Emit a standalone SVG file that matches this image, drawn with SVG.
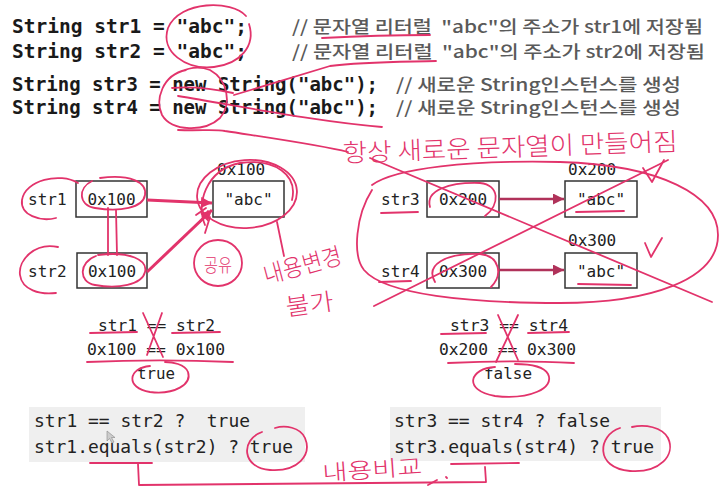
<svg xmlns="http://www.w3.org/2000/svg" width="722" height="502" viewBox="0 0 722 502">
<defs>
<marker id="ah" viewBox="0 0 10 10" refX="10" refY="5" markerWidth="13" markerHeight="11" markerUnits="userSpaceOnUse" orient="auto"><path d="M0,0 L10,5 L0,10 z" fill="#b0325a"/></marker>
<marker id="ahp" viewBox="0 0 10 10" refX="10" refY="5" markerWidth="13" markerHeight="11" markerUnits="userSpaceOnUse" orient="auto"><path d="M0,0 L10,5 L0,10 z" fill="#e2336b"/></marker>
</defs>
<style>
text{white-space:pre}
.code{font-family:"DejaVu Sans Mono","Liberation Mono",monospace;font-weight:bold;font-size:19px;fill:#1a1a1a}
.cmt{font-family:"Noto Sans CJK KR","Noto Sans",sans-serif;font-size:17px;fill:#5a5a5a;font-weight:500}
.mono{font-family:"DejaVu Sans Mono","Liberation Mono",monospace;font-size:16px;fill:#222}
.mono18{font-family:"DejaVu Sans Mono","Liberation Mono",monospace;font-size:18px;fill:#222}
.box{fill:#fff;stroke:#333;stroke-width:1.5}
.pen{fill:none;stroke:#e2336b;stroke-width:1.8;stroke-linecap:round;stroke-linejoin:round}
.hand{font-family:"Noto Sans CJK KR",sans-serif;fill:#e2336b;font-weight:300}
.conn{stroke:#b0325a;stroke-width:2.5;fill:none}
.connp{stroke:#e2336b;stroke-width:3;fill:none}
.gray{fill:#efefef}
</style>

<g id="code">
<text class="code" x="12" y="33" textLength="235" lengthAdjust="spacingAndGlyphs">String str1 = "abc";</text>
<text class="code" x="12" y="58" textLength="235" lengthAdjust="spacingAndGlyphs">String str2 = "abc";</text>
<text class="code" x="12" y="91" textLength="366" lengthAdjust="spacingAndGlyphs">String str3 = new String("abc");</text>
<text class="code" x="12" y="114" textLength="366" lengthAdjust="spacingAndGlyphs">String str4 = new String("abc");</text>
<text class="cmt" x="292" y="33" textLength="411" lengthAdjust="spacingAndGlyphs">// 문자열 리터럴  "abc"의 주소가 str1에 저장됨</text>
<text class="cmt" x="292" y="58" textLength="413" lengthAdjust="spacingAndGlyphs">// 문자열 리터럴  "abc"의 주소가 str2에 저장됨</text>
<text class="cmt" x="396" y="91" textLength="285" lengthAdjust="spacingAndGlyphs">// 새로운 String인스턴스를 생성</text>
<text class="cmt" x="396" y="114" textLength="285" lengthAdjust="spacingAndGlyphs">// 새로운 String인스턴스를 생성</text>
</g>

<g id="left-diagram">
<g id="str1"><text class="mono" x="28" y="205">str1</text><rect class="box" x="76" y="181" width="71" height="36"/><text class="mono" x="111.5" y="205" text-anchor="middle">0x100</text></g>
<g id="str2"><text class="mono" x="28" y="277">str2</text><rect class="box" x="77" y="253" width="70" height="35"/><text class="mono" x="112" y="277" text-anchor="middle">0x100</text></g>
<g id="abc1"><text class="mono" x="217" y="175">0x100</text><rect class="box" x="213" y="181" width="71" height="36"/><text class="mono" x="248.5" y="205" text-anchor="middle">"abc"</text></g>
</g>

<g id="right-diagram">
<g id="str3"><text class="mono" x="381" y="205">str3</text><rect class="box" x="427" y="181" width="72" height="36"/><text class="mono" x="463" y="205" text-anchor="middle">0x200</text></g>
<g id="str4"><text class="mono" x="381" y="277">str4</text><rect class="box" x="427" y="253" width="72" height="35"/><text class="mono" x="463" y="277" text-anchor="middle">0x300</text></g>
<g id="abc2"><text class="mono" x="568" y="175">0x200</text><rect class="box" x="565" y="181" width="72" height="36"/><text class="mono" x="601" y="205" text-anchor="middle">"abc"</text></g>
<g id="abc3"><text class="mono" x="568" y="246">0x300</text><rect class="box" x="565" y="253" width="72" height="35"/><text class="mono" x="601" y="277" text-anchor="middle">"abc"</text></g>
</g>

<g id="connectors">
<path class="connp" d="M147 200 L212 203" marker-end="url(#ahp)"/>
<path class="connp" d="M147 272 L212 210" marker-end="url(#ahp)"/>
<path class="conn" d="M499 199 L564 199" marker-end="url(#ah)"/>
<path class="conn" d="M499 270 L564 270" marker-end="url(#ah)"/>
</g>

<g id="compare-left">
<text class="mono" x="98" y="331" textLength="117" lengthAdjust="spacingAndGlyphs">str1 == str2</text>
<text class="mono" x="87" y="355" textLength="138" lengthAdjust="spacingAndGlyphs">0x100 == 0x100</text>
<text class="mono" x="137" y="379" textLength="38" lengthAdjust="spacingAndGlyphs">true</text>
</g>
<g id="compare-right">
<text class="mono" x="450" y="331" textLength="118" lengthAdjust="spacingAndGlyphs">str3 == str4</text>
<text class="mono" x="439" y="355" textLength="137" lengthAdjust="spacingAndGlyphs">0x200 == 0x300</text>
<text class="mono" x="484" y="379" textLength="48" lengthAdjust="spacingAndGlyphs">false</text>
</g>

<g id="result-left">
<rect class="gray" x="29" y="407" width="276" height="55"/>
<text class="mono18" x="34" y="427" textLength="216" lengthAdjust="spacingAndGlyphs">str1 == str2 ?  true</text>
<text class="mono18" x="34" y="453" textLength="259" lengthAdjust="spacingAndGlyphs">str1.equals(str2) ? true</text>
<path d="M107 431 L107 441 L109.5 438.5 L112 443 L114 442 L111.5 437.5 L115 437.5 z" fill="#ccc" stroke="#888" stroke-width="0.6"/>
</g>
<g id="result-right">
<rect class="gray" x="390" y="407" width="271" height="54"/>
<text class="mono18" x="394" y="427" textLength="216" lengthAdjust="spacingAndGlyphs">str3 == str4 ? false</text>
<text class="mono18" x="394" y="453" textLength="260" lengthAdjust="spacingAndGlyphs">str3.equals(str4) ? true</text>
</g>

<g id="annotations">
<path class="pen" d="M246 16 C232 0, 180 0, 168 28 C160 52, 186 70, 214 67 C240 64, 256 46, 249 24"/>
<path class="pen" d="M322 38 C360 36, 400 35, 430 35"/>
<path class="pen" d="M436 61 C400 62, 362 62, 330 66 L234 95"/>
<path class="pen" d="M186 70 C162 75, 155 100, 162 115 C172 132, 205 132, 220 118 C232 104, 228 80, 210 70 C200 66, 190 67, 180 72"/>
<path class="pen" d="M172 88 C195 86, 215 89, 233 93"/>
<path class="pen" d="M178 96 C250 108, 320 122, 382 127"/>
<path class="pen" d="M178 130 C200 131, 215 129, 225 131 C270 138, 320 145, 348 152"/>
<text class="hand" x="343" y="162" font-size="25" textLength="335" lengthAdjust="spacingAndGlyphs" transform="rotate(-2 343 162)">항상 새로운 문자열이 만들어짐</text>
<path class="pen" d="M78 183 C60 172, 25 180, 22 200 C20 215, 40 222, 56 218"/>
<path class="pen" d="M58 247 C35 242, 18 260, 20 275 C22 290, 40 295, 56 293"/>
<path class="pen" d="M100 178 C130 174, 147 182, 145 195 C143 208, 120 212, 95 208 C78 205, 78 188, 92 181"/>
<path class="pen" d="M98 255 C130 251, 148 260, 145 272 C142 285, 118 289, 95 285 C78 282, 79 262, 96 256"/>
<path class="pen" d="M108 208 L108 255 M116 210 L117 255"/>
<ellipse class="pen" cx="247" cy="194" rx="50" ry="34" transform="rotate(-4 247 194)"/>
<path class="pen" d="M205 225 C196 205, 205 170, 240 163 C275 158, 298 175, 292 200"/>
<path class="pen" d="M277 222 L284 256"/>
<path class="pen" d="M210 217 L205 233"/>
<path class="pen" d="M196 215 L206 208 M200 222 L208 211"/>
<ellipse class="pen" cx="218" cy="263" rx="24" ry="23"/>
<text class="hand" x="204" y="272" font-size="18" textLength="28" lengthAdjust="spacingAndGlyphs">공유</text>
<text class="hand" x="266" y="284" font-size="24" textLength="80" lengthAdjust="spacingAndGlyphs" transform="rotate(-15 266 284)">내용변경</text>
<text class="hand" x="287" y="316" font-size="24" textLength="48" lengthAdjust="spacingAndGlyphs" transform="rotate(-8 287 316)">불가</text>
<path class="pen" d="M372 185 C395 168, 470 160, 560 162 C660 165, 718 195, 718 235 C718 280, 650 303, 560 303 C470 303, 385 295, 364 270 C352 255, 356 215, 372 190"/>
<path class="pen" d="M370 158 L712 302"/>
<path class="pen" d="M374 306 L668 160"/>
<path class="pen" d="M643 168 L652 182 L664 160"/>
<path class="pen" d="M645 243 L651 257 L662 238"/>
<path class="pen" d="M430 207 C425 190, 450 182, 480 183 C500 185, 500 205, 485 216"/>
<path class="pen" d="M435 282 C425 265, 445 253, 480 254 C500 256, 503 275, 491 287"/>
<path class="pen" d="M381 213 L418 212 M379 282 L411 281 M576 212 L624 211 M578 284 L631 285"/>
<path class="pen" d="M90 333 L137 332 M172 333 L220 332"/>
<path class="pen" d="M143 313 L163 357 M162 313 L147 355"/>
<path class="pen" d="M87 362 C130 360, 190 360, 233 362"/>
<path class="pen" d="M150 366 C128 368, 125 388, 150 392 C175 395, 192 384, 188 372 C185 364, 172 362, 165 362"/>
<path class="pen" d="M90 463 L152 463"/>
<path class="pen" d="M138 464 L139 485 L486 482 L485 467"/>
<path class="pen" d="M262 432 C240 440, 242 468, 270 470 C298 472, 312 455, 305 438 C300 427, 285 425, 275 428"/>
<text class="hand" x="323" y="481" font-size="22" textLength="100" lengthAdjust="spacingAndGlyphs" transform="rotate(-4 323 481)">내용비교</text>
<path class="pen" d="M428 485 L437 480 M446 477 L447 478"/>
<path class="pen" d="M441 334 L486 333 M528 333 L569 332"/>
<path class="pen" d="M498 315 L518 360 M518 315 L496 362"/>
<path class="pen" d="M448 363 C490 361, 540 361, 574 363"/>
<path class="pen" d="M495 367 C470 368, 462 390, 495 396 C530 400, 555 388, 548 374 C543 365, 525 364, 515 364"/>
<path class="pen" d="M451 464 L519 463"/>
<path class="pen" d="M620 428 C598 435, 594 468, 630 471 C660 473, 676 455, 668 438 C662 427, 645 424, 632 427"/>
</g>
</svg>
